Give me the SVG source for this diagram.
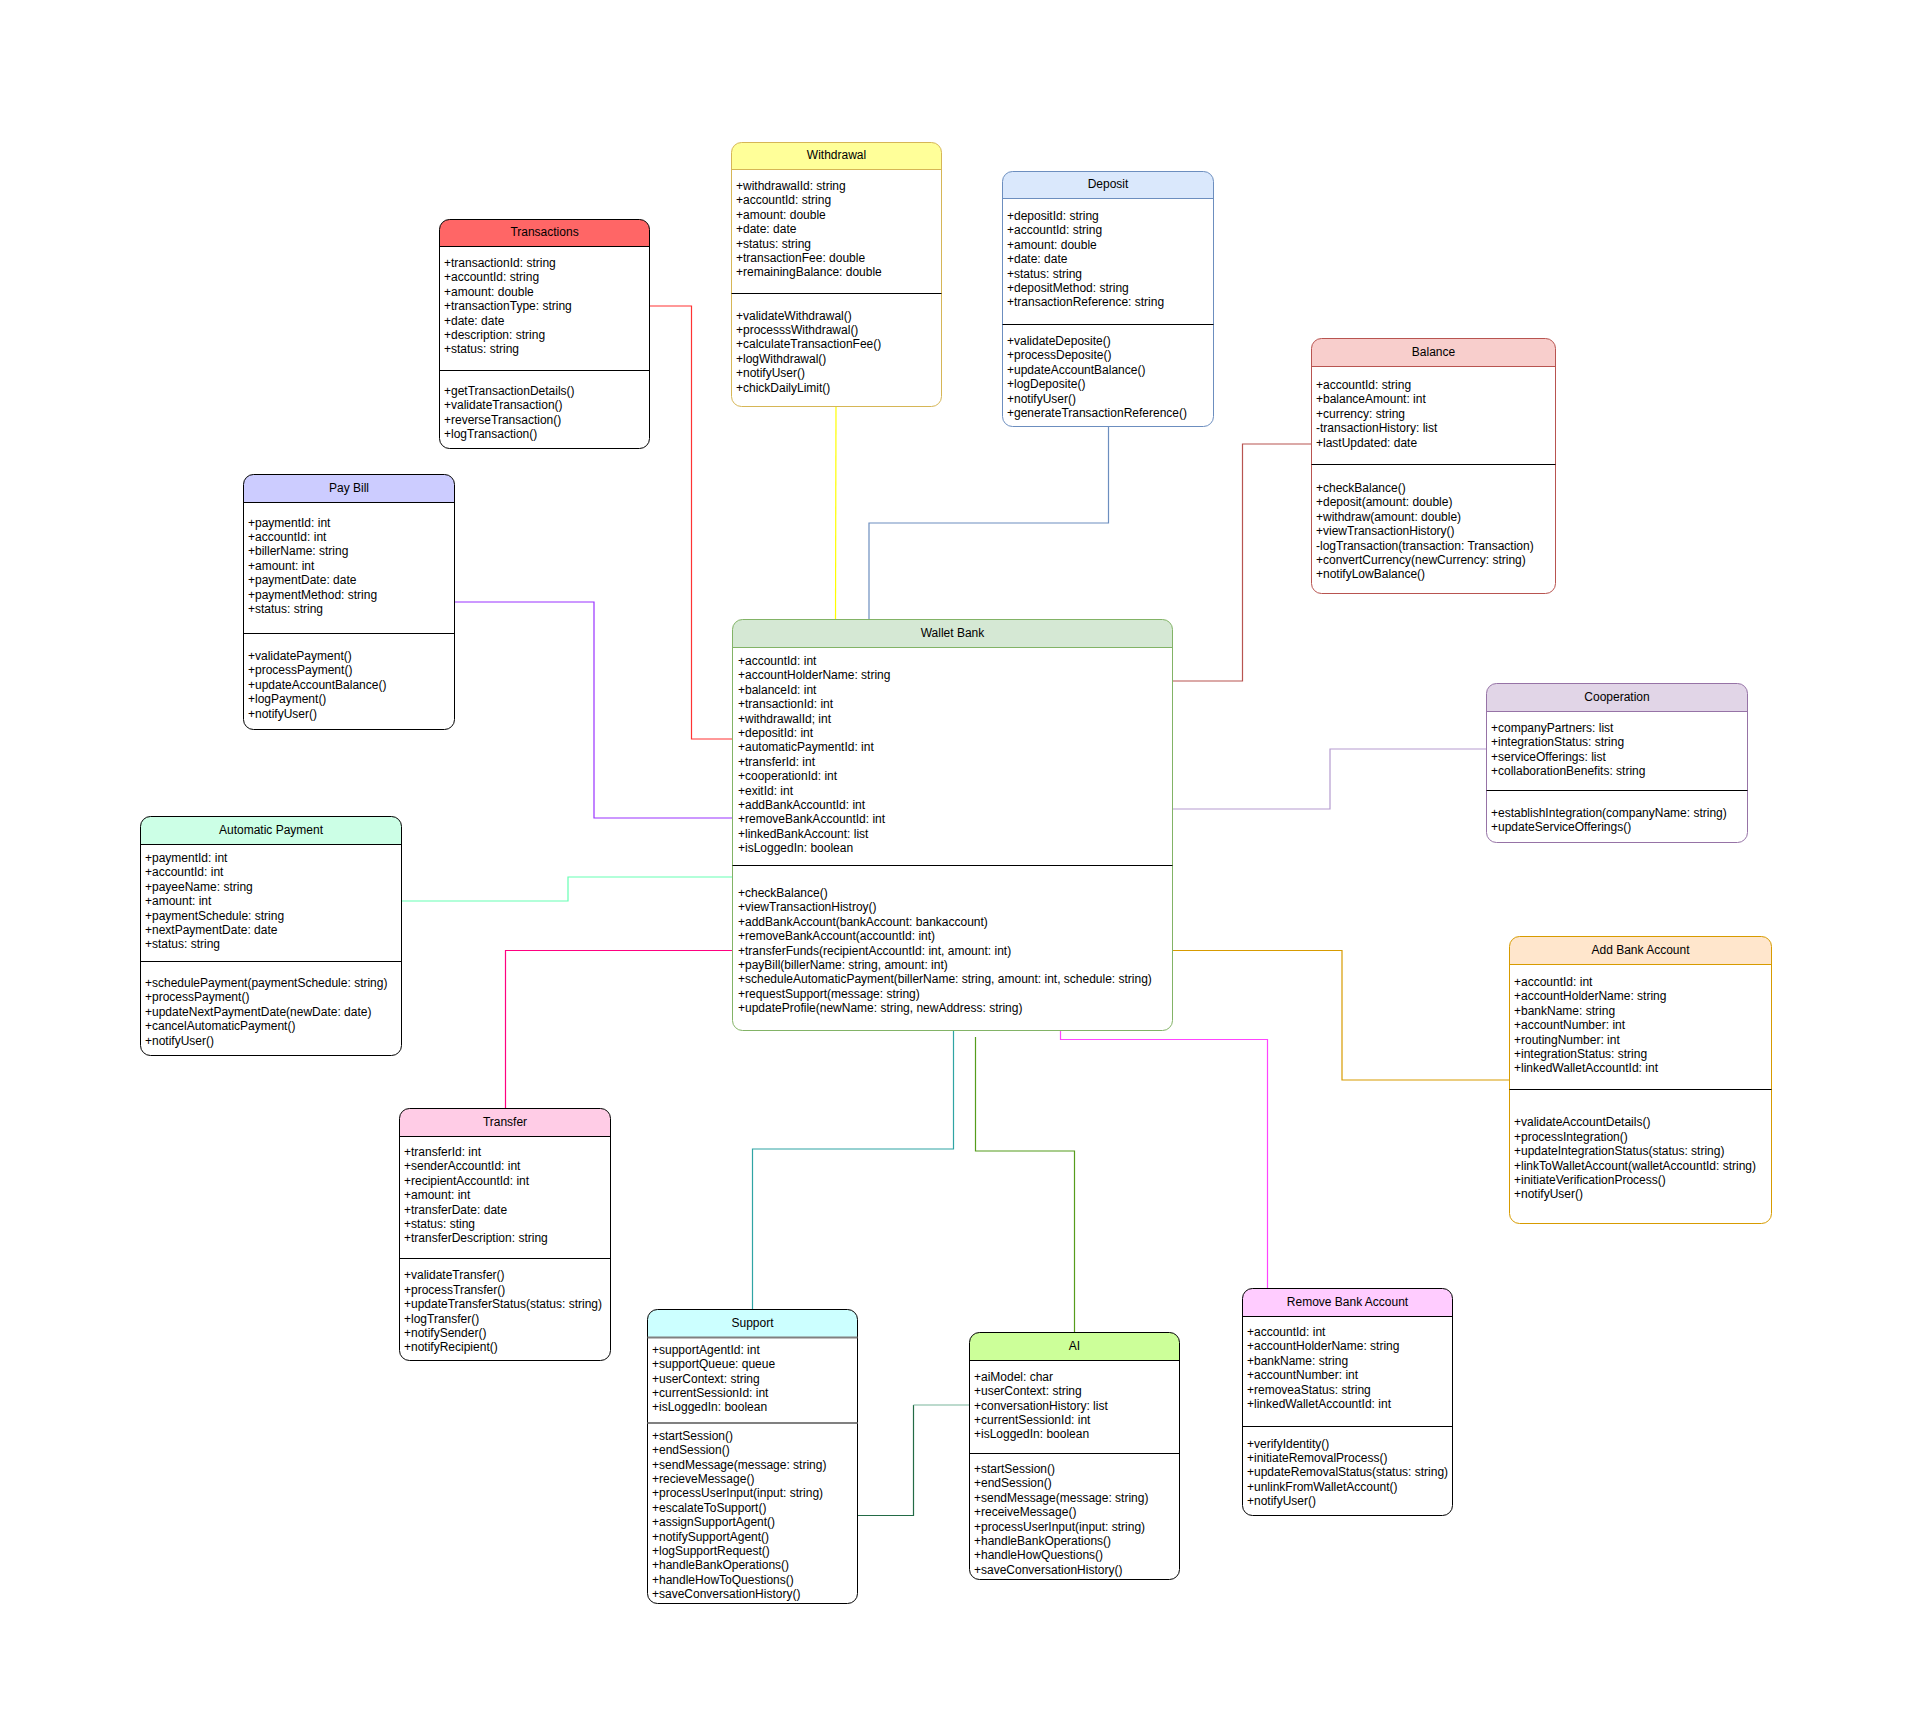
<svg xmlns="http://www.w3.org/2000/svg" width="1911" height="1716" viewBox="0 0 1911 1716">
  <style>
    text { font-family: "Liberation Sans", Arial, Helvetica, sans-serif; font-size: 12px; fill: #000; }
    .title { text-anchor: middle; }
    .box { fill: none; stroke-width: 1; }
    .sep { stroke-width: 1; }
    .div { stroke: #000; stroke-width: 1; }
    .edge { fill: none; stroke-width: 1.2; }
  </style>
  <rect x="0" y="0" width="1911" height="1716" fill="#ffffff"/>

  <!-- connectors -->
  <g id="connectors">
    <polyline class="edge" stroke="#ff3333" points="650,306 691.5,306 691.5,739 732,739"/>
    <polyline class="edge" stroke="#ffff00" points="836,407 835.5,619"/>
    <polyline class="edge" stroke="#6c8ebf" points="1108.5,426 1108.5,523 869,523 869,619"/>
    <polyline class="edge" stroke="#b85450" points="1311,444 1242.5,444 1242.5,681 1173,681"/>
    <polyline class="edge" stroke="#9933ff" points="455,602 594,602 594,818 732,818"/>
    <polyline class="edge" stroke="#66ffb3" points="402,901 568,901 568,877 732,877"/>
    <polyline class="edge" stroke="#ff0080" points="732,950.5 505.5,950.5 505.5,1108"/>
    <polyline class="edge" stroke="#b59ccf" points="1486,749 1330,749 1330,809 1173,809"/>
    <polyline class="edge" stroke="#d79b00" points="1173,950.5 1342,950.5 1342,1080 1509,1080"/>
    <polyline class="edge" stroke="#2fa4a4" points="953.5,1031 953.5,1149 752.5,1149 752.5,1309"/>
    <polyline class="edge" stroke="#559c1c" points="975.5,1037 975.5,1151 1074.5,1151 1074.5,1332"/>
    <polyline class="edge" stroke="#ff44ff" points="1060.5,1031 1060.5,1039.5 1267.5,1039.5 1267.5,1288"/>
    <polyline class="edge" stroke="#236b46" points="858,1515.5 913.5,1515.5 913.5,1405"/>
    <polyline class="edge" stroke="#7ab59c" stroke-width="2" points="913.5,1405 969,1405"/>
  </g>

  <!-- Transactions -->
  <g id="transactions">
    <path d="M439.5,246.5 V229.5 A10,10 0 0 1 449.5,219.5 H639.5 A10,10 0 0 1 649.5,229.5 V246.5 Z" fill="#ff6666"/>
    <rect class="box" x="439.5" y="219.5" width="210" height="229" rx="10" stroke="#000"/>
    <line class="sep" x1="439.5" y1="246.5" x2="649.5" y2="246.5" stroke="#000"/>
    <line class="div" x1="439.5" y1="370.5" x2="649.5" y2="370.5"/>
    <text class="title" x="544.5" y="236">Transactions</text>
    <text y="267">
      <tspan x="444">+transactionId: string</tspan>
      <tspan x="444" dy="14.4">+accountId: string</tspan>
      <tspan x="444" dy="14.4">+amount: double</tspan>
      <tspan x="444" dy="14.4">+transactionType: string</tspan>
      <tspan x="444" dy="14.4">+date: date</tspan>
      <tspan x="444" dy="14.4">+description: string</tspan>
      <tspan x="444" dy="14.4">+status: string</tspan>
    </text>
    <text y="395">
      <tspan x="444">+getTransactionDetails()</tspan>
      <tspan x="444" dy="14.4">+validateTransaction()</tspan>
      <tspan x="444" dy="14.4">+reverseTransaction()</tspan>
      <tspan x="444" dy="14.4">+logTransaction()</tspan>
    </text>
  </g>

  <!-- Withdrawal -->
  <g id="withdrawal">
    <path d="M731.5,169.5 V152.5 A10,10 0 0 1 741.5,142.5 H931.5 A10,10 0 0 1 941.5,152.5 V169.5 Z" fill="#ffff99"/>
    <rect class="box" x="731.5" y="142.5" width="210" height="264" rx="10" stroke="#d6b656"/>
    <line class="sep" x1="731.5" y1="169.5" x2="941.5" y2="169.5" stroke="#d6b656"/>
    <line class="div" x1="731.5" y1="293.5" x2="941.5" y2="293.5"/>
    <text class="title" x="836.5" y="159.3">Withdrawal</text>
    <text y="190">
      <tspan x="736">+withdrawalId: string</tspan>
      <tspan x="736" dy="14.4">+accountId: string</tspan>
      <tspan x="736" dy="14.4">+amount: double</tspan>
      <tspan x="736" dy="14.4">+date: date</tspan>
      <tspan x="736" dy="14.4">+status: string</tspan>
      <tspan x="736" dy="14.4">+transactionFee: double</tspan>
      <tspan x="736" dy="14.4">+remainingBalance: double</tspan>
    </text>
    <text y="319.6">
      <tspan x="736">+validateWithdrawal()</tspan>
      <tspan x="736" dy="14.4">+processsWithdrawal()</tspan>
      <tspan x="736" dy="14.4">+calculateTransactionFee()</tspan>
      <tspan x="736" dy="14.4">+logWithdrawal()</tspan>
      <tspan x="736" dy="14.4">+notifyUser()</tspan>
      <tspan x="736" dy="14.4">+chickDailyLimit()</tspan>
    </text>
  </g>

  <!-- Deposit -->
  <g id="deposit">
    <path d="M1002.5,198.5 V181.5 A10,10 0 0 1 1012.5,171.5 H1203.5 A10,10 0 0 1 1213.5,181.5 V198.5 Z" fill="#dae8fc"/>
    <rect class="box" x="1002.5" y="171.5" width="211" height="255" rx="10" stroke="#6c8ebf"/>
    <line class="sep" x1="1002.5" y1="198.5" x2="1213.5" y2="198.5" stroke="#6c8ebf"/>
    <line class="div" x1="1002.5" y1="324.5" x2="1213.5" y2="324.5"/>
    <text class="title" x="1108" y="188.3">Deposit</text>
    <text y="220">
      <tspan x="1007">+depositId: string</tspan>
      <tspan x="1007" dy="14.4">+accountId: string</tspan>
      <tspan x="1007" dy="14.4">+amount: double</tspan>
      <tspan x="1007" dy="14.4">+date: date</tspan>
      <tspan x="1007" dy="14.4">+status: string</tspan>
      <tspan x="1007" dy="14.4">+depositMethod: string</tspan>
      <tspan x="1007" dy="14.4">+transactionReference: string</tspan>
    </text>
    <text y="345">
      <tspan x="1007">+validateDeposite()</tspan>
      <tspan x="1007" dy="14.4">+processDeposite()</tspan>
      <tspan x="1007" dy="14.4">+updateAccountBalance()</tspan>
      <tspan x="1007" dy="14.4">+logDeposite()</tspan>
      <tspan x="1007" dy="14.4">+notifyUser()</tspan>
      <tspan x="1007" dy="14.4">+generateTransactionReference()</tspan>
    </text>
  </g>

  <!-- Balance -->
  <g id="balance">
    <path d="M1311.5,366.5 V348.5 A10,10 0 0 1 1321.5,338.5 H1545.5 A10,10 0 0 1 1555.5,348.5 V366.5 Z" fill="#f8cecc"/>
    <rect class="box" x="1311.5" y="338.5" width="244" height="255" rx="10" stroke="#b85450"/>
    <line class="sep" x1="1311.5" y1="366.5" x2="1555.5" y2="366.5" stroke="#b85450"/>
    <line class="div" x1="1311.5" y1="464.5" x2="1555.5" y2="464.5"/>
    <text class="title" x="1433.5" y="356.3">Balance</text>
    <text y="389">
      <tspan x="1316">+accountId: string</tspan>
      <tspan x="1316" dy="14.4">+balanceAmount: int</tspan>
      <tspan x="1316" dy="14.4">+currency: string</tspan>
      <tspan x="1316" dy="14.4">-transactionHistory: list</tspan>
      <tspan x="1316" dy="14.4">+lastUpdated: date</tspan>
    </text>
    <text y="492">
      <tspan x="1316">+checkBalance()</tspan>
      <tspan x="1316" dy="14.4">+deposit(amount: double)</tspan>
      <tspan x="1316" dy="14.4">+withdraw(amount: double)</tspan>
      <tspan x="1316" dy="14.4">+viewTransactionHistory()</tspan>
      <tspan x="1316" dy="14.4">-logTransaction(transaction: Transaction)</tspan>
      <tspan x="1316" dy="14.4">+convertCurrency(newCurrency: string)</tspan>
      <tspan x="1316" dy="14.4">+notifyLowBalance()</tspan>
    </text>
  </g>

  <!-- Pay Bill -->
  <g id="pay-bill">
    <path d="M243.5,502.5 V484.5 A10,10 0 0 1 253.5,474.5 H444.5 A10,10 0 0 1 454.5,484.5 V502.5 Z" fill="#ccccff"/>
    <rect class="box" x="243.5" y="474.5" width="211" height="255" rx="10" stroke="#000"/>
    <line class="sep" x1="243.5" y1="502.5" x2="454.5" y2="502.5" stroke="#000"/>
    <line class="div" x1="243.5" y1="633.5" x2="454.5" y2="633.5"/>
    <text class="title" x="349" y="492.3">Pay Bill</text>
    <text y="526.6">
      <tspan x="248">+paymentId: int</tspan>
      <tspan x="248" dy="14.4">+accountId: int</tspan>
      <tspan x="248" dy="14.4">+billerName: string</tspan>
      <tspan x="248" dy="14.4">+amount: int</tspan>
      <tspan x="248" dy="14.4">+paymentDate: date</tspan>
      <tspan x="248" dy="14.4">+paymentMethod: string</tspan>
      <tspan x="248" dy="14.4">+status: string</tspan>
    </text>
    <text y="660">
      <tspan x="248">+validatePayment()</tspan>
      <tspan x="248" dy="14.4">+processPayment()</tspan>
      <tspan x="248" dy="14.4">+updateAccountBalance()</tspan>
      <tspan x="248" dy="14.4">+logPayment()</tspan>
      <tspan x="248" dy="14.4">+notifyUser()</tspan>
    </text>
  </g>

  <!-- Wallet Bank -->
  <g id="wallet-bank">
    <path d="M732.5,647.5 V629.5 A10,10 0 0 1 742.5,619.5 H1162.5 A10,10 0 0 1 1172.5,629.5 V647.5 Z" fill="#d5e8d4"/>
    <rect class="box" x="732.5" y="619.5" width="440" height="411" rx="10" stroke="#82b366"/>
    <line class="sep" x1="732.5" y1="647.5" x2="1172.5" y2="647.5" stroke="#82b366"/>
    <line class="div" x1="732.5" y1="865.5" x2="1172.5" y2="865.5"/>
    <text class="title" x="952.5" y="637.3">Wallet Bank</text>
    <text y="665">
      <tspan x="738">+accountId: int</tspan>
      <tspan x="738" dy="14.4">+accountHolderName: string</tspan>
      <tspan x="738" dy="14.4">+balanceId: int</tspan>
      <tspan x="738" dy="14.4">+transactionId: int</tspan>
      <tspan x="738" dy="14.4">+withdrawalId; int</tspan>
      <tspan x="738" dy="14.4">+depositId: int</tspan>
      <tspan x="738" dy="14.4">+automaticPaymentId: int</tspan>
      <tspan x="738" dy="14.4">+transferId: int</tspan>
      <tspan x="738" dy="14.4">+cooperationId: int</tspan>
      <tspan x="738" dy="14.4">+exitId: int</tspan>
      <tspan x="738" dy="14.4">+addBankAccountId: int</tspan>
      <tspan x="738" dy="14.4">+removeBankAccountId: int</tspan>
      <tspan x="738" dy="14.4">+linkedBankAccount: list</tspan>
      <tspan x="738" dy="14.4">+isLoggedIn: boolean</tspan>
    </text>
    <text y="897">
      <tspan x="738">+checkBalance()</tspan>
      <tspan x="738" dy="14.4">+viewTransactionHistroy()</tspan>
      <tspan x="738" dy="14.4">+addBankAccount(bankAccount: bankaccount)</tspan>
      <tspan x="738" dy="14.4">+removeBankAccount(accountId: int)</tspan>
      <tspan x="738" dy="14.4">+transferFunds(recipientAccountId: int, amount: int)</tspan>
      <tspan x="738" dy="14.4">+payBill(billerName: string, amount: int)</tspan>
      <tspan x="738" dy="14.4">+scheduleAutomaticPayment(billerName: string, amount: int, schedule: string)</tspan>
      <tspan x="738" dy="14.4">+requestSupport(message: string)</tspan>
      <tspan x="738" dy="14.4">+updateProfile(newName: string, newAddress: string)</tspan>
    </text>
  </g>

  <!-- Cooperation -->
  <g id="cooperation">
    <path d="M1486.5,711.5 V693.5 A10,10 0 0 1 1496.5,683.5 H1737.5 A10,10 0 0 1 1747.5,693.5 V711.5 Z" fill="#e1d5e7"/>
    <rect class="box" x="1486.5" y="683.5" width="261" height="159" rx="10" stroke="#9673a6"/>
    <line class="sep" x1="1486.5" y1="711.5" x2="1747.5" y2="711.5" stroke="#9673a6"/>
    <line class="div" x1="1486.5" y1="790.5" x2="1747.5" y2="790.5"/>
    <text class="title" x="1617" y="701">Cooperation</text>
    <text y="732">
      <tspan x="1491">+companyPartners: list</tspan>
      <tspan x="1491" dy="14.4">+integrationStatus: string</tspan>
      <tspan x="1491" dy="14.4">+serviceOfferings: list</tspan>
      <tspan x="1491" dy="14.4">+collaborationBenefits: string</tspan>
    </text>
    <text y="817">
      <tspan x="1491">+establishIntegration(companyName: string)</tspan>
      <tspan x="1491" dy="14.4">+updateServiceOfferings()</tspan>
    </text>
  </g>

  <!-- Automatic Payment -->
  <g id="automatic-payment">
    <path d="M140.5,844.5 V826.5 A10,10 0 0 1 150.5,816.5 H391.5 A10,10 0 0 1 401.5,826.5 V844.5 Z" fill="#ccffe6"/>
    <rect class="box" x="140.5" y="816.5" width="261" height="239" rx="10" stroke="#000"/>
    <line class="sep" x1="140.5" y1="844.5" x2="401.5" y2="844.5" stroke="#000"/>
    <line class="div" x1="140.5" y1="961.5" x2="401.5" y2="961.5"/>
    <text class="title" x="271" y="834.3">Automatic Payment</text>
    <text y="862">
      <tspan x="145">+paymentId: int</tspan>
      <tspan x="145" dy="14.4">+accountId: int</tspan>
      <tspan x="145" dy="14.4">+payeeName: string</tspan>
      <tspan x="145" dy="14.4">+amount: int</tspan>
      <tspan x="145" dy="14.4">+paymentSchedule: string</tspan>
      <tspan x="145" dy="14.4">+nextPaymentDate: date</tspan>
      <tspan x="145" dy="14.4">+status: string</tspan>
    </text>
    <text y="987">
      <tspan x="145">+schedulePayment(paymentSchedule: string)</tspan>
      <tspan x="145" dy="14.4">+processPayment()</tspan>
      <tspan x="145" dy="14.4">+updateNextPaymentDate(newDate: date)</tspan>
      <tspan x="145" dy="14.4">+cancelAutomaticPayment()</tspan>
      <tspan x="145" dy="14.4">+notifyUser()</tspan>
    </text>
  </g>

  <!-- Add Bank Account -->
  <g id="add-bank-account">
    <path d="M1509.5,964.5 V946.5 A10,10 0 0 1 1519.5,936.5 H1761.5 A10,10 0 0 1 1771.5,946.5 V964.5 Z" fill="#ffe6cc"/>
    <rect class="box" x="1509.5" y="936.5" width="262" height="287" rx="10" stroke="#d79b00"/>
    <line class="sep" x1="1509.5" y1="964.5" x2="1771.5" y2="964.5" stroke="#d79b00"/>
    <line class="div" x1="1509.5" y1="1089.5" x2="1771.5" y2="1089.5"/>
    <text class="title" x="1640.5" y="953.6">Add Bank Account</text>
    <text y="986">
      <tspan x="1514">+accountId: int</tspan>
      <tspan x="1514" dy="14.4">+accountHolderName: string</tspan>
      <tspan x="1514" dy="14.4">+bankName: string</tspan>
      <tspan x="1514" dy="14.4">+accountNumber: int</tspan>
      <tspan x="1514" dy="14.4">+routingNumber: int</tspan>
      <tspan x="1514" dy="14.4">+integrationStatus: string</tspan>
      <tspan x="1514" dy="14.4">+linkedWalletAccountId: int</tspan>
    </text>
    <text y="1126.3">
      <tspan x="1514">+validateAccountDetails()</tspan>
      <tspan x="1514" dy="14.4">+processIntegration()</tspan>
      <tspan x="1514" dy="14.4">+updateIntegrationStatus(status: string)</tspan>
      <tspan x="1514" dy="14.4">+linkToWalletAccount(walletAccountId: string)</tspan>
      <tspan x="1514" dy="14.4">+initiateVerificationProcess()</tspan>
      <tspan x="1514" dy="14.4">+notifyUser()</tspan>
    </text>
  </g>

  <!-- Transfer -->
  <g id="transfer">
    <path d="M399.5,1136.5 V1118.5 A10,10 0 0 1 409.5,1108.5 H600.5 A10,10 0 0 1 610.5,1118.5 V1136.5 Z" fill="#ffcce6"/>
    <rect class="box" x="399.5" y="1108.5" width="211" height="252" rx="10" stroke="#000"/>
    <line class="sep" x1="399.5" y1="1136.5" x2="610.5" y2="1136.5" stroke="#000"/>
    <line class="div" x1="399.5" y1="1258.5" x2="610.5" y2="1258.5"/>
    <text class="title" x="505" y="1126.3">Transfer</text>
    <text y="1156">
      <tspan x="404">+transferId: int</tspan>
      <tspan x="404" dy="14.4">+senderAccountId: int</tspan>
      <tspan x="404" dy="14.4">+recipientAccountId: int</tspan>
      <tspan x="404" dy="14.4">+amount: int</tspan>
      <tspan x="404" dy="14.4">+transferDate: date</tspan>
      <tspan x="404" dy="14.4">+status: sting</tspan>
      <tspan x="404" dy="14.4">+transferDescription: string</tspan>
    </text>
    <text y="1279.3">
      <tspan x="404">+validateTransfer()</tspan>
      <tspan x="404" dy="14.4">+processTransfer()</tspan>
      <tspan x="404" dy="14.4">+updateTransferStatus(status: string)</tspan>
      <tspan x="404" dy="14.4">+logTransfer()</tspan>
      <tspan x="404" dy="14.4">+notifySender()</tspan>
      <tspan x="404" dy="14.4">+notifyRecipient()</tspan>
    </text>
  </g>

  <!-- Support -->
  <g id="support">
    <path d="M647.5,1337.5 V1319.5 A10,10 0 0 1 657.5,1309.5 H847.5 A10,10 0 0 1 857.5,1319.5 V1337.5 Z" fill="#ccffff"/>
    <rect class="box" x="647.5" y="1309.5" width="210" height="294" rx="10" stroke="#000"/>
    <line x1="647.5" y1="1337.5" x2="857.5" y2="1337.5" stroke="#808080" stroke-width="2"/>
    <line x1="647.5" y1="1423" x2="857.5" y2="1423" stroke="#808080" stroke-width="2"/>
    <text class="title" x="752.5" y="1327">Support</text>
    <text y="1354">
      <tspan x="652">+supportAgentId: int</tspan>
      <tspan x="652" dy="14.3">+supportQueue: queue</tspan>
      <tspan x="652" dy="14.3">+userContext: string</tspan>
      <tspan x="652" dy="14.3">+currentSessionId: int</tspan>
      <tspan x="652" dy="14.3">+isLoggedIn: boolean</tspan>
    </text>
    <text y="1440">
      <tspan x="652">+startSession()</tspan>
      <tspan x="652" dy="14.36">+endSession()</tspan>
      <tspan x="652" dy="14.36">+sendMessage(message: string)</tspan>
      <tspan x="652" dy="14.36">+recieveMessage()</tspan>
      <tspan x="652" dy="14.36">+processUserInput(input: string)</tspan>
      <tspan x="652" dy="14.36">+escalateToSupport()</tspan>
      <tspan x="652" dy="14.36">+assignSupportAgent()</tspan>
      <tspan x="652" dy="14.36">+notifySupportAgent()</tspan>
      <tspan x="652" dy="14.36">+logSupportRequest()</tspan>
      <tspan x="652" dy="14.36">+handleBankOperations()</tspan>
      <tspan x="652" dy="14.36">+handleHowToQuestions()</tspan>
      <tspan x="652" dy="14.36">+saveConversationHistory()</tspan>
    </text>
  </g>

  <!-- AI -->
  <g id="ai">
    <path d="M969.5,1360.5 V1342.5 A10,10 0 0 1 979.5,1332.5 H1169.5 A10,10 0 0 1 1179.5,1342.5 V1360.5 Z" fill="#ccff99"/>
    <rect class="box" x="969.5" y="1332.5" width="210" height="247" rx="10" stroke="#000"/>
    <line class="sep" x1="969.5" y1="1360.5" x2="1179.5" y2="1360.5" stroke="#000"/>
    <line class="div" x1="969.5" y1="1453.5" x2="1179.5" y2="1453.5"/>
    <text class="title" x="1074.5" y="1350">AI</text>
    <text y="1381">
      <tspan x="974">+aiModel: char</tspan>
      <tspan x="974" dy="14.3">+userContext: string</tspan>
      <tspan x="974" dy="14.3">+conversationHistory: list</tspan>
      <tspan x="974" dy="14.3">+currentSessionId: int</tspan>
      <tspan x="974" dy="14.3">+isLoggedIn: boolean</tspan>
    </text>
    <text y="1473">
      <tspan x="974">+startSession()</tspan>
      <tspan x="974" dy="14.4">+endSession()</tspan>
      <tspan x="974" dy="14.4">+sendMessage(message: string)</tspan>
      <tspan x="974" dy="14.4">+receiveMessage()</tspan>
      <tspan x="974" dy="14.4">+processUserInput(input: string)</tspan>
      <tspan x="974" dy="14.4">+handleBankOperations()</tspan>
      <tspan x="974" dy="14.4">+handleHowQuestions()</tspan>
      <tspan x="974" dy="14.4">+saveConversationHistory()</tspan>
    </text>
  </g>

  <!-- Remove Bank Account -->
  <g id="remove-bank-account">
    <path d="M1242.5,1316.5 V1298.5 A10,10 0 0 1 1252.5,1288.5 H1442.5 A10,10 0 0 1 1452.5,1298.5 V1316.5 Z" fill="#ffccff"/>
    <rect class="box" x="1242.5" y="1288.5" width="210" height="227" rx="10" stroke="#000"/>
    <line class="sep" x1="1242.5" y1="1316.5" x2="1452.5" y2="1316.5" stroke="#000"/>
    <line class="div" x1="1242.5" y1="1426.5" x2="1452.5" y2="1426.5"/>
    <text class="title" x="1347.5" y="1306.3">Remove Bank Account</text>
    <text y="1336">
      <tspan x="1247">+accountId: int</tspan>
      <tspan x="1247" dy="14.4">+accountHolderName: string</tspan>
      <tspan x="1247" dy="14.4">+bankName: string</tspan>
      <tspan x="1247" dy="14.4">+accountNumber: int</tspan>
      <tspan x="1247" dy="14.4">+removeaStatus: string</tspan>
      <tspan x="1247" dy="14.4">+linkedWalletAccountId: int</tspan>
    </text>
    <text y="1447.5">
      <tspan x="1247">+verifyIdentity()</tspan>
      <tspan x="1247" dy="14.4">+initiateRemovalProcess()</tspan>
      <tspan x="1247" dy="14.4">+updateRemovalStatus(status: string)</tspan>
      <tspan x="1247" dy="14.4">+unlinkFromWalletAccount()</tspan>
      <tspan x="1247" dy="14.4">+notifyUser()</tspan>
    </text>
  </g>
</svg>
